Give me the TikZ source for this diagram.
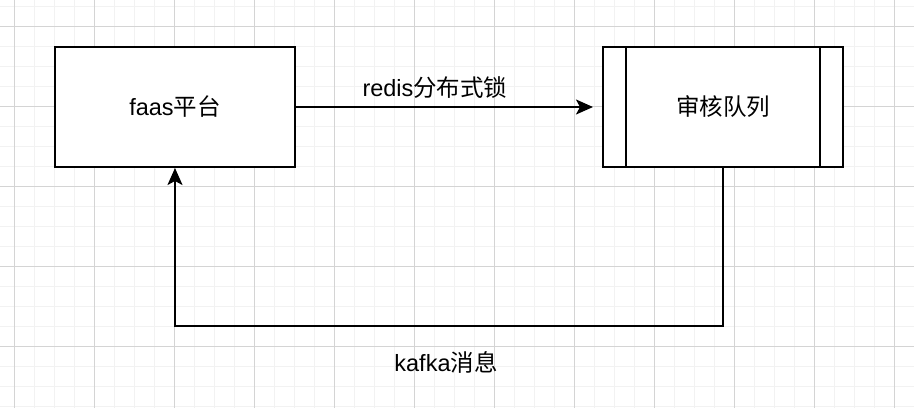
\documentclass[tikz,border=0pt]{standalone}
\usepackage{fontspec}
\setmainfont{Liberation Sans}
\newfontfamily\cjk{Noto Sans CJK SC}
\usetikzlibrary{arrows.meta}
\tikzset{
  boxstyle/.style={draw=black, line width=2pt, fill=white, minimum width=240pt, minimum height=120pt, inner sep=0pt, font=\fontsize{23.5}{27}\selectfont},
  conn/.style={line width=2pt, -{Stealth[length=17pt,width=15pt,inset=4pt]}},
  lbl/.style={inner sep=0pt, font=\fontsize{23.5}{27}\selectfont},
}
\begin{document}
\begin{tikzpicture}[x=1pt,y=-1pt]
\useasboundingbox (0,0) rectangle (914,408);
\fill[white] (0,0) rectangle (914,408);
% minor grid
\foreach \x in {14,34,...,914} \draw[color=black!5, line width=1pt] (\x,0) -- (\x,408);
\foreach \y in {6,26,...,408} \draw[color=black!5, line width=1pt] (0,\y) -- (914,\y);
% major grid
\foreach \x in {14,94,...,914} \draw[color=black!17, line width=1pt] (\x,0) -- (\x,408);
\foreach \y in {26,106,...,408} \draw[color=black!17, line width=1pt] (0,\y) -- (914,\y);

\node[boxstyle] (faas) at (175,107) {faas{\cjk 平台}};
\node[boxstyle] (queue) at (723,107) {{\cjk 审核队列}};
\draw[line width=2pt] ([xshift=24pt]queue.north west) -- ([xshift=24pt]queue.south west);
\draw[line width=2pt] ([xshift=-24pt]queue.north east) -- ([xshift=-24pt]queue.south east);

\coordinate (c1) at (723,326);
\coordinate (c2) at (175,326);
\draw[conn, shorten >=9pt] (faas.east) -- (queue.west);
\draw[conn] (queue.south) -- (c1) -- (c2) -- (faas.south);

\node[lbl] (redislbl) at (435,88) {redis{\cjk 分布式锁}};
\node[lbl] (kafkalbl) at (446,362) {kafka{\cjk 消息}};
\end{tikzpicture}
\end{document}
